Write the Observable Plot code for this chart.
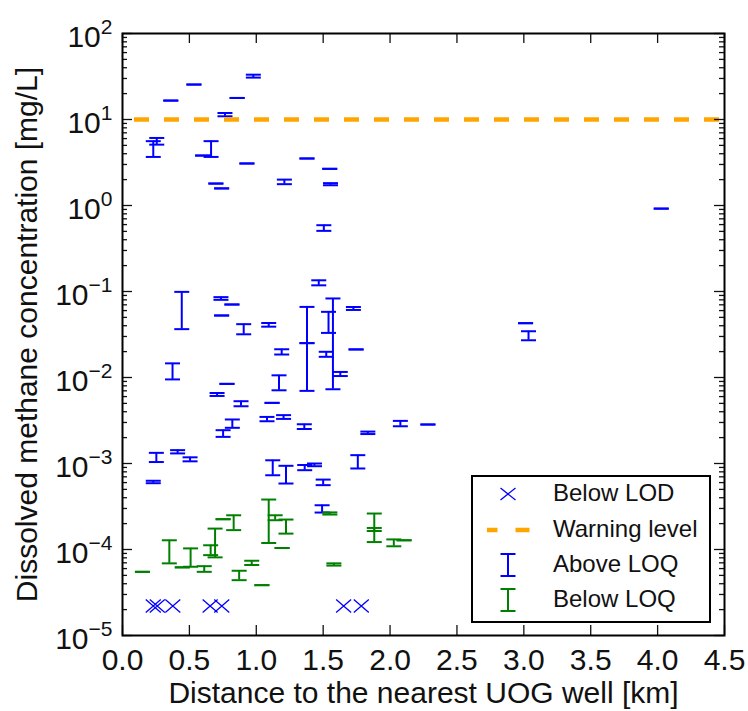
<!DOCTYPE html>
<html><head><meta charset="utf-8">
<script src="https://cdn.jsdelivr.net/npm/d3@7"></script>
<script src="https://cdn.jsdelivr.net/npm/@observablehq/plot@0.6"></script>
<style>
html,body{margin:0;padding:0;background:#fff;}
#wrap{position:relative;width:748px;height:711px;overflow:hidden;}
#legend{position:absolute;left:471px;top:475px;width:236px;height:144px;border:2px solid #000;background:#fff;
  font-family:"Liberation Sans",Arial,sans-serif;font-size:24px;color:#111;}
.row{position:absolute;left:0;height:34px;width:236px;}
.row svg{position:absolute;left:14px;top:0;}
.row span{position:absolute;left:80px;top:50%;transform:translateY(-52%);white-space:nowrap;}
</style></head>
<body><div id="wrap"></div>
<script>
// ---- data (distance km, concentration mg/L) ----
const aboveX  = [0.361,0.534,0.978,0.857,0.766,0.23,0.256,0.662,0.599,0.93,0.698,0.741,1.21,1.379,1.549,1.555,1.505,1.467,0.443,0.736,0.818,0.741,0.906,1.093,1.379,1.379,1.54,1.573,1.523,1.628,1.726,1.746,0.374,1.19,1.17,0.781,0.707,0.886,1.118,1.08,1.204,1.359,1.834,2.077,2.283,1.759,0.752,0.821,0.253,0.412,0.505,0.23,1.123,1.222,1.362,1.435,1.50,1.492,3.013,3.035,4.027];
const aboveLo  = [16.6,25.5,30.7,17.8,10.9,3.67,5.1,3.67,3.81,3.08,1.80,1.58,1.77,3.52,2.67,1.72,0.507,0.118,0.0365,0.080,0.0706,0.0526,0.0318,0.039,0.00699,0.0251,0.033,0.0073,0.0174,0.0104,0.061,0.0212,0.0095,0.0185,0.0071,0.00843,0.0061,0.00463,0.00507,0.0031,0.0033,0.00252,0.0022,0.00271,0.00284,0.000875,0.00204,0.0026,0.00104,0.00131,0.00106,0.00059,0.00073,0.000585,0.000836,0.00093,0.00056,0.000269,0.0428,0.0271,0.92];
const aboveHi  = [16.6,25.5,33.2,17.8,11.9,5.6,6.1,5.6,3.81,3.08,1.80,1.58,2.0,3.52,2.67,1.82,0.59,0.135,0.099,0.086,0.0706,0.0526,0.0417,0.043,0.0662,0.0251,0.058,0.083,0.0199,0.0116,0.066,0.0212,0.0146,0.0213,0.0106,0.00843,0.0066,0.0053,0.00507,0.00348,0.00365,0.00286,0.00235,0.00313,0.00284,0.00125,0.00244,0.00325,0.00133,0.00143,0.00118,0.00063,0.00109,0.00094,0.00096,0.001,0.00065,0.000327,0.0428,0.0345,0.92];

const belowX   = [0.149,0.35,0.447,0.509,0.611,0.692,0.659,0.752,0.831,0.872,0.966,1.042,1.093,1.141,1.222,1.193,1.55,1.58,1.882,1.882,2.028,2.105];
const belowLo  = [5.5e-5,6.9e-5,6.2e-5,6.3e-5,5.5e-5,8.1e-5,8.6e-5,2.25e-4,1.68e-4,4.4e-5,6.6e-5,3.85e-5,1.19e-4,2.19e-4,1.53e-4,1.04e-4,2.55e-4,6.5e-5,1.64e-4,1.22e-4,1.09e-4,1.28e-4];
const belowHi  = [5.5e-5,1.28e-4,6.2e-5,1.03e-4,6.4e-5,1.75e-4,1.12e-4,2.25e-4,2.5e-4,5.66e-5,7.4e-5,3.85e-5,3.81e-4,2.5e-4,2.23e-4,1.04e-4,2.7e-4,6.9e-5,2.62e-4,1.78e-4,1.31e-4,1.28e-4];

const lodX   = [0.23,0.26,0.376,0.655,0.742,1.653,1.785];
const lodVal = [2.2e-5,2.2e-5,2.2e-5,2.2e-5,2.2e-5,2.2e-5,2.2e-5];

const warningLevel = 10;
const xTicks = [0,0.5,1,1.5,2,2.5,3,3.5,4,4.5];
const yTicks = [1e-5,1e-4,1e-3,1e-2,1e-1,1,10,100];
const yMinor = d3.scaleLog().domain([1e-5,1e2]).ticks().filter(v => Math.abs(Math.log10(v) - Math.round(Math.log10(v))) > 1e-6);

const xLabel = "Distance to the nearest UOG well [km]";
const yLabel = "Dissolved methane concentration [mg/L]";
const legendLabels = ["Below LOD","Warning level","Above LOQ","Below LOQ"];

const BLUE = "#0000ff", GREEN = "#008000", ORANGE = "#ffa500";

// ---- build tables ----
const above = aboveX.map((x,i)=>({x, lo:aboveLo[i], hi:aboveHi[i]}));
const below = belowX.map((x,i)=>({x, lo:belowLo[i], hi:belowHi[i]}));
const lod = lodX.map((x,i)=>({x, v:lodVal[i]}));
const capsOf = rows => rows.flatMap(d => [{x:d.x,y:d.lo},{x:d.x,y:d.hi}]);

const capSym = {draw(ctx, size){ const w = Math.sqrt(size/Math.PI); ctx.moveTo(-w,0); ctx.lineTo(w,0); }};
const xSym = {draw(ctx, size){ const w = Math.sqrt(size/Math.PI), h = w*0.87; ctx.moveTo(-w,-h); ctx.lineTo(w,h); ctx.moveTo(-w,h); ctx.lineTo(w,-h); }};

const W = 748, H = 711, mL = 122, mR = 24, mT = 33, mB = 76;
const pW = W - mL - mR, pH = H - mT - mB;
const FONT = '"Liberation Sans", Arial, sans-serif';

const tickStyle = {stroke:"#111", strokeWidth:1.3};

const svg = Plot.plot({
  width: W, height: H,
  marginLeft: mL, marginRight: mR, marginTop: mT, marginBottom: mB,
  style: {fontFamily: FONT, background: "white", color: "#111"},
  x: {domain: [0, 4.5], axis: null},
  y: {type: "log", domain: [1e-5, 1e2], axis: null},
  marks: [
    // error bars: Above LOQ
    Plot.ruleX(above, {x:"x", y1:"lo", y2:"hi", stroke:BLUE, strokeWidth:2}),
    Plot.dot(capsOf(above), {x:"x", y:"y", symbol:capSym, r:7.5, fill:"none", stroke:BLUE, strokeWidth:2}),
    // error bars: Below LOQ
    Plot.ruleX(below, {x:"x", y1:"lo", y2:"hi", stroke:GREEN, strokeWidth:2}),
    Plot.dot(capsOf(below), {x:"x", y:"y", symbol:capSym, r:7.5, fill:"none", stroke:GREEN, strokeWidth:2}),
    // below LOD
    Plot.dot(lod, {x:"x", y:"v", symbol:xSym, r:7.5, fill:"none", stroke:BLUE, strokeWidth:1.3}),
    // warning level
    Plot.ruleY([warningLevel], {stroke:ORANGE, strokeWidth:4.5, strokeDasharray:"15,15", strokeDashoffset:18}),
    // inward ticks
    Plot.ruleX(xTicks, {x:d=>d, insetTop:pH-10, ...tickStyle}),
    Plot.ruleX(xTicks, {x:d=>d, insetBottom:pH-10, ...tickStyle}),
    Plot.ruleY(yTicks, {y:d=>d, insetRight:pW-10, ...tickStyle}),
    Plot.ruleY(yTicks, {y:d=>d, insetLeft:pW-10, ...tickStyle}),
    Plot.ruleY(yMinor, {y:d=>d, insetRight:pW-5, ...tickStyle}),
    Plot.ruleY(yMinor, {y:d=>d, insetLeft:pW-5, ...tickStyle}),
    // tick labels
    Plot.text(xTicks, {x:d=>d, frameAnchor:"bottom", text:d=>d3.format(".1f")(d), dy:13, lineAnchor:"top", fontSize:30, fill:"#111"}),
    Plot.text(yTicks, {y:d=>d, frameAnchor:"left", text:d=>"10^"+Math.round(Math.log10(d)), dx:-10, dy:4, textAnchor:"end", lineAnchor:"middle", fontSize:30, fill:"#111"}),
    // axis titles
    Plot.text([xLabel], {frameAnchor:"bottom", text:d=>d, dy:58, textAnchor:"middle", lineAnchor:"middle", fontSize:30, fill:"#111"}),
    Plot.text([yLabel], {frameAnchor:"left", text:d=>d, dx:-95, rotate:-90, textAnchor:"middle", lineAnchor:"middle", fontSize:30, fill:"#111"}),
    Plot.frame({stroke:"#000", strokeWidth:2})
  ]
});

// superscript exponents on y tick labels
svg.querySelectorAll("text").forEach(t => {
  const s = t.textContent;
  if (s.startsWith("10^")) {
    const e = s.slice(3).replace("-", "\u2212");
    while (t.firstChild) t.removeChild(t.firstChild);
    const b = document.createElementNS("http://www.w3.org/2000/svg","tspan");
    b.textContent = "10";
    const p = document.createElementNS("http://www.w3.org/2000/svg","tspan");
    p.textContent = e;
    p.setAttribute("font-size", "21");
    p.setAttribute("dy", "-0.62em");
    t.appendChild(b); t.appendChild(p);
  }
});

const wrap = document.getElementById("wrap");
wrap.appendChild(svg);

// legend
const lg = document.createElement("div");
lg.id = "legend";
const rowsY = [17, 53, 88, 123];
const symbols = [
  `<svg width="44" height="34"><path d="M13.5,11 L28.5,23 M13.5,23 L28.5,11" stroke="${BLUE}" stroke-width="1.3" fill="none"/></svg>`,
  `<svg width="50" height="34"><line x1="-4" y1="17" x2="46" y2="17" stroke="${ORANGE}" stroke-width="4.5" stroke-dasharray="14,18" stroke-dashoffset="-0.5"/></svg>`,
  `<svg width="44" height="34"><path d="M21,6 V28 M13.5,6 H28.5 M13.5,28 H28.5" stroke="${BLUE}" stroke-width="2" fill="none"/></svg>`,
  `<svg width="44" height="34"><path d="M21,6 V28 M13.5,6 H28.5 M13.5,28 H28.5" stroke="${GREEN}" stroke-width="2" fill="none"/></svg>`
];
legendLabels.forEach((lab, i) => {
  const r = document.createElement("div");
  r.className = "row";
  r.style.top = (rowsY[i] - 17) + "px";
  r.innerHTML = symbols[i] + `<span>${lab}</span>`;
  lg.appendChild(r);
});
wrap.appendChild(lg);
</script>
</body></html>
